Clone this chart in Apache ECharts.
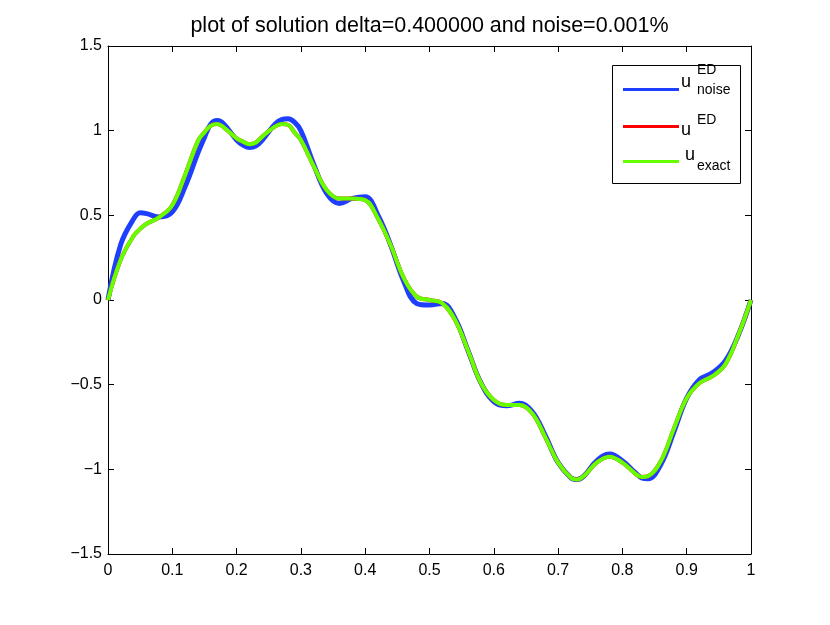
<!DOCTYPE html>
<html>
<head>
<meta charset="utf-8">
<script src="https://cdn.jsdelivr.net/npm/echarts@6/dist/echarts.min.js"></script>
<style>
  html, body { margin: 0; padding: 0; background: #fff; }
  #chart { width: 830px; height: 625px; }
</style>
</head>
<body>
<div id="chart"></div>
<script>
// x samples shared by all three curves (denser round the bumps)
var xs = [0, 0.02, 0.04, 0.05, 0.06, 0.08, 0.10, 0.12, 0.14, 0.15,
          0.16, 0.17, 0.18, 0.20, 0.21, 0.22, 0.23, 0.24, 0.26, 0.27,
          0.28, 0.29, 0.30, 0.32, 0.34, 0.36, 0.38, 0.40, 0.42, 0.44,
          0.46, 0.48, 0.50, 0.52, 0.54, 0.56, 0.58, 0.60, 0.62, 0.64,
          0.66, 0.68, 0.70, 0.72, 0.73, 0.74, 0.76, 0.78, 0.80, 0.82,
          0.83, 0.84, 0.86, 0.88, 0.90, 0.92, 0.94, 0.96, 0.98, 1.00];

// u_noise^ED (blue)
var uNoise = [0, 0.33, 0.48, 0.515, 0.51, 0.49, 0.52, 0.67, 0.87, 0.96,
              1.04, 1.06, 1.04, 0.945, 0.915, 0.90, 0.91, 0.945, 1.04, 1.065,
              1.07, 1.05, 1.00, 0.80, 0.63, 0.57, 0.60, 0.61, 0.50, 0.32,
              0.11, -0.02, -0.03, -0.02, -0.11, -0.30, -0.49, -0.60, -0.625, -0.61,
              -0.66, -0.80, -0.96, -1.05, -1.06, -1.04, -0.95, -0.91, -0.95, -1.02,
              -1.05, -1.055, -0.97, -0.78, -0.58, -0.47, -0.43, -0.36, -0.21, 0];

// u^ED (red) - hidden under the green curve
var uED = [0, 0.24, 0.38, 0.42, 0.45, 0.49, 0.56, 0.74, 0.94, 0.99,
           1.03, 1.04, 1.02, 0.955, 0.935, 0.92, 0.93, 0.965, 1.025, 1.04,
           1.035, 0.99, 0.945, 0.79, 0.65, 0.60, 0.60, 0.59, 0.48, 0.32,
           0.13, 0.02, 0.00, -0.02, -0.12, -0.30, -0.49, -0.59, -0.62, -0.62,
           -0.67, -0.81, -0.96, -1.05, -1.06, -1.04, -0.96, -0.925, -0.96, -1.025,
           -1.045, -1.04, -0.95, -0.76, -0.58, -0.49, -0.45, -0.38, -0.21, 0];

// u_exact (green)
var uExact = [0, 0.24, 0.38, 0.42, 0.45, 0.49, 0.56, 0.74, 0.94, 0.99,
              1.03, 1.04, 1.02, 0.955, 0.935, 0.92, 0.93, 0.965, 1.025, 1.04,
              1.035, 0.99, 0.945, 0.79, 0.65, 0.60, 0.60, 0.59, 0.48, 0.32,
              0.13, 0.02, 0.00, -0.02, -0.12, -0.30, -0.49, -0.59, -0.62, -0.62,
              -0.67, -0.81, -0.96, -1.05, -1.06, -1.04, -0.96, -0.925, -0.96, -1.025,
              -1.045, -1.04, -0.95, -0.76, -0.58, -0.49, -0.45, -0.38, -0.21, 0];

var xTicks = [0, 0.1, 0.2, 0.3, 0.4, 0.5, 0.6, 0.7, 0.8, 0.9, 1];
var yTicks = [-1.5, -1, -0.5, 0, 0.5, 1, 1.5];

var FONT = '"Liberation Sans", Arial, Helvetica, sans-serif';

function pairs(ys) {
    return xs.map(function (x, i) { return [x, ys[i]]; });
}
function fmt(v) {
    return v < 0 ? '\u2212' + String(-v) : String(v);
}

var tickLine = {show: true, inside: true, length: 6, lineStyle: {color: '#000', width: 1}};
var axLine = {show: true, onZero: false, lineStyle: {color: '#000', width: 1}};

function legendItem(name, top) {
    return {data: [name], left: 623, top: top, padding: 0, icon: 'rect',
            itemWidth: 56, itemHeight: 3, selectedMode: false, z: 5,
            formatter: function () { return ''; }};
}
function label(text, x, y, size) {
    return {type: 'text', z: 6,
            style: {text: text, x: x, y: y, font: size + 'px ' + FONT, fill: '#000', verticalAlign: 'middle'}};
}

var chart = echarts.init(document.getElementById('chart'));
chart.setOption({
    backgroundColor: '#fff',
    animation: false,
    grid: {left: 108, right: 79, top: 46, bottom: 71, containLabel: false},
    xAxis: [{
        type: 'value', min: xTicks[0], max: xTicks[xTicks.length - 1], interval: 0.1,
        position: 'bottom',
        axisLine: axLine, axisTick: tickLine, splitLine: {show: false},
        axisLabel: {
            margin: 9, color: '#000', fontFamily: FONT, fontSize: 16,
            formatter: function (v) { return fmt(Math.round(v * 10) / 10); }
        }
    }, {
        type: 'value', min: 0, max: 1, interval: 0.1, position: 'top',
        axisLine: axLine, axisTick: tickLine, splitLine: {show: false},
        axisLabel: {show: false}
    }],
    yAxis: [{
        type: 'value', min: yTicks[0], max: yTicks[yTicks.length - 1], interval: 0.5,
        position: 'left',
        axisLine: axLine, axisTick: tickLine, splitLine: {show: false},
        axisLabel: {
            margin: 6, color: '#000', fontFamily: FONT, fontSize: 16,
            formatter: function (v) { return fmt(v); }
        }
    }, {
        type: 'value', min: -1.5, max: 1.5, interval: 0.5, position: 'right',
        axisLine: axLine, axisTick: tickLine, splitLine: {show: false},
        axisLabel: {show: false}
    }],
    legend: [legendItem('noise', 88), legendItem('ED', 125), legendItem('exact', 160)],
    graphic: [
        // title, centred over the plot box
        {type: 'text', z: 6,
         style: {text: 'plot of solution delta=0.400000 and noise=0.001%', x: 429.5, y: 26.5,
                 font: '21.5px ' + FONT, fill: '#000', align: 'center', verticalAlign: 'middle'}},
        {type: 'rect', z: 3, shape: {x: 612.5, y: 65.5, width: 128, height: 118},
         style: {fill: '#fff', stroke: '#000', lineWidth: 1}},
        // legend labels: u with sup/sub scripts
        label('u', 681, 82, 18), label('ED', 697, 70, 14), label('noise', 697, 90, 14),
        label('u', 681, 130, 18), label('ED', 697, 120, 14),
        label('u', 685, 155, 18), label('exact', 697, 166, 14)
    ],
    series: [
        {name: 'noise', type: 'line', data: pairs(uNoise), smooth: 0.4, showSymbol: false,
         itemStyle: {color: '#1f3fff'}, lineStyle: {color: '#1f3fff', width: 5}},
        {name: 'ED', type: 'line', data: pairs(uED), smooth: 0.4, showSymbol: false,
         itemStyle: {color: '#ff0000'}, lineStyle: {color: '#ff0000', width: 4}},
        {name: 'exact', type: 'line', data: pairs(uExact), smooth: 0.4, showSymbol: false,
         itemStyle: {color: '#66ff00'}, lineStyle: {color: '#66ff00', width: 4}}
    ]
});
</script>
</body>
</html>
